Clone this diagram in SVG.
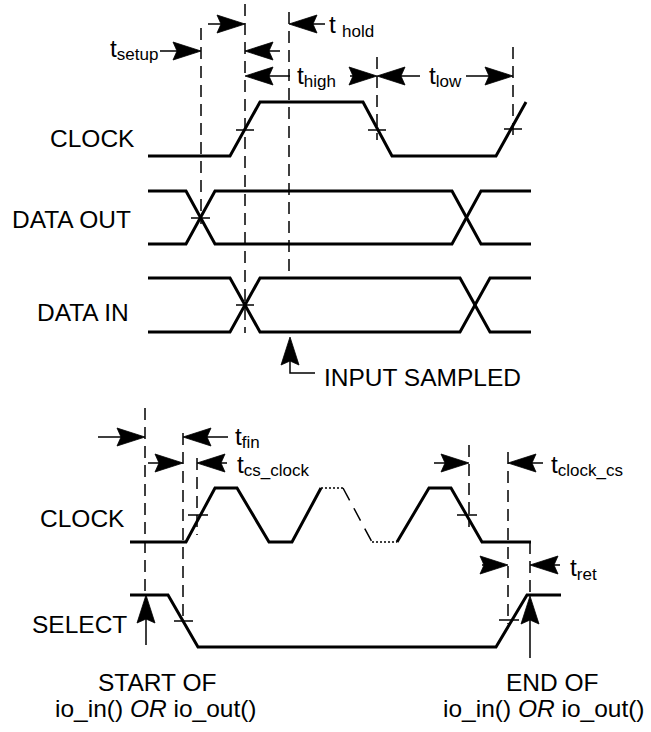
<svg xmlns="http://www.w3.org/2000/svg" width="651" height="732" viewBox="0 0 651 732">
<style>
.sig{fill:none;stroke:#000;stroke-width:3;stroke-linejoin:miter}
.dash{fill:none;stroke:#000;stroke-width:1.5;stroke-dasharray:12 7}
.dot{fill:none;stroke:#000;stroke-width:1.5;stroke-dasharray:2 2}
.ddash{fill:none;stroke:#000;stroke-width:1.5;stroke-dasharray:14 9}
.tick{stroke:#000;stroke-width:1.5}
.arr{fill:none;stroke:#000;stroke-width:1.5}
.head{fill:#000;stroke:#000;stroke-width:0.8;stroke-linejoin:miter}
.lbl{font-family:"Liberation Sans",Arial,sans-serif;font-size:24.5px;fill:#000}
.sub{font-size:17px}
</style>

<g id="guides">
<line class="dash" x1="201" y1="28" x2="201" y2="224"/>
<line class="dash" x1="245" y1="4" x2="245" y2="333"/>
<line class="dash" x1="289" y1="12" x2="289" y2="279"/>
<line class="dash" x1="377" y1="57" x2="377" y2="140"/>
<line class="dash" x1="513" y1="47" x2="513" y2="140"/>
<line class="dash" x1="145" y1="408" x2="145" y2="595"/>
<line class="dash" x1="183" y1="433" x2="183" y2="621"/>
<line class="dash" x1="197" y1="458" x2="197" y2="535"/>
<line class="dash" x1="469" y1="445" x2="469" y2="527"/>
<line class="dash" x1="508" y1="452" x2="508" y2="624"/>
<line class="dash" x1="530" y1="542" x2="530" y2="596"/>
</g>

<g id="ticks">
<line class="tick" x1="236" y1="130" x2="254" y2="130"/>
<line class="tick" x1="368" y1="130" x2="386" y2="130"/>
<line class="tick" x1="504" y1="129" x2="522" y2="129"/>
<line class="tick" x1="191" y1="218" x2="210" y2="218"/>
<line class="tick" x1="236" y1="305" x2="254" y2="305"/>
<line class="tick" x1="188" y1="515" x2="208" y2="515"/>
<line class="tick" x1="457" y1="515" x2="477" y2="515"/>
<line class="tick" x1="174" y1="621" x2="193" y2="621"/>
<line class="tick" x1="499" y1="620" x2="519" y2="620"/>
</g>

<g id="clock-top">
<text class="lbl" x="50" y="147">CLOCK</text>
<path class="sig" d="M148,156 H230 L260,102 H363 L392,156 H496 L526,102"/>
</g>

<g id="data-out">
<text class="lbl" x="12" y="228">DATA OUT</text>
<path class="sig" d="M148,191 H186 L215,244 H452 L481,191 H531"/>
<path class="sig" d="M148,244 H186 L215,191 H452 L481,244 H531"/>
</g>

<g id="data-in">
<text class="lbl" x="37" y="321">DATA IN</text>
<path class="sig" d="M148,278 H230 L260,332 H460 L490,278 H531"/>
<path class="sig" d="M148,332 H230 L260,278 H460 L490,332 H531"/>
</g>

<g id="clock-bottom">
<text class="lbl" x="40" y="527">CLOCK</text>
<path class="sig" d="M130,542 H186 L215,488 H237 L269,542 H292 L321,488"/>
<path class="dot" d="M321,488 H343"/>
<path class="ddash" d="M343,488 L372,542"/>
<path class="dot" d="M372,542 H397"/>
<path class="sig" d="M397,542 L429,488 H451 L482,542 H531"/>
</g>

<g id="select">
<text class="lbl" x="32" y="633">SELECT</text>
<path class="sig" d="M130,595 H168 L198,647 H496 L527,595 H561"/>
</g>

<g id="labels">
<text class="lbl" x="110" y="57">t<tspan class="sub" dy="3">setup</tspan></text>
<text class="lbl" x="329" y="33">t<tspan class="sub" x="342" dy="4">hold</tspan></text>
<text class="lbl" x="297" y="84">t<tspan class="sub" dy="3">high</tspan></text>
<text class="lbl" x="429" y="84">t<tspan class="sub" dy="3">low</tspan></text>
<text class="lbl" x="324" y="386">INPUT SAMPLED</text>
<text class="lbl" x="235" y="445">t<tspan class="sub" dy="3">fin</tspan></text>
<text class="lbl" x="237" y="473">t<tspan class="sub" dy="3">cs_clock</tspan></text>
<text class="lbl" x="551" y="473">t<tspan class="sub" dy="3">clock_cs</tspan></text>
<text class="lbl" x="570" y="576">t<tspan class="sub" dy="4">ret</tspan></text>
<text class="lbl" x="98" y="691">START OF</text>
<text class="lbl" x="55" y="717">io_in() <tspan font-style="italic">OR</tspan> io_out()</text>
<text class="lbl" x="506" y="691">END OF</text>
<text class="lbl" x="443" y="717">io_in() <tspan font-style="italic">OR</tspan> io_out()</text>
</g>

<g id="connectors">
<path class="arr" d="M160,51 H190 M208,24 H234 M280,51 H256 M290,76 H256 M325,24 H300 M350,76 H366 M420,76 H388 M466,76 H502 M315,373 H290 V350 M98,437 H134 M228,437 H194 M148,463 H172 M227,463 H208 M434,463 H458 M543,463 H519 M482,565 H497 M560,565 H541 M146,645 V608 M530,658 V609"/>
<path class="head" d="M201,51 l-28,-9 l4,9 l-4,9 z M245,24 l-28,-9 l4,9 l-4,9 z M377,76 l-28,-9 l4,9 l-4,9 z M513,76 l-28,-9 l4,9 l-4,9 z M145,437 l-28,-9 l4,9 l-4,9 z M183,463 l-28,-9 l4,9 l-4,9 z M469,463 l-28,-9 l4,9 l-4,9 z M508,565 l-28,-9 l4,9 l-4,9 z"/>
<path class="head" d="M245,51 l28,-9 l-4,9 l4,9 z M245,76 l28,-9 l-4,9 l4,9 z M289,24 l28,-9 l-4,9 l4,9 z M377,76 l28,-9 l-4,9 l4,9 z M183,437 l28,-9 l-4,9 l4,9 z M197,463 l28,-9 l-4,9 l4,9 z M508,463 l28,-9 l-4,9 l4,9 z M530,565 l28,-9 l-4,9 l4,9 z"/>
<path class="head" d="M290,337 l-9,28 l9,-4 l9,4 z M146,595 l-9,28 l9,-4 l9,4 z M530,596 l-9,28 l9,-4 l9,4 z"/>
</g>
</svg>
